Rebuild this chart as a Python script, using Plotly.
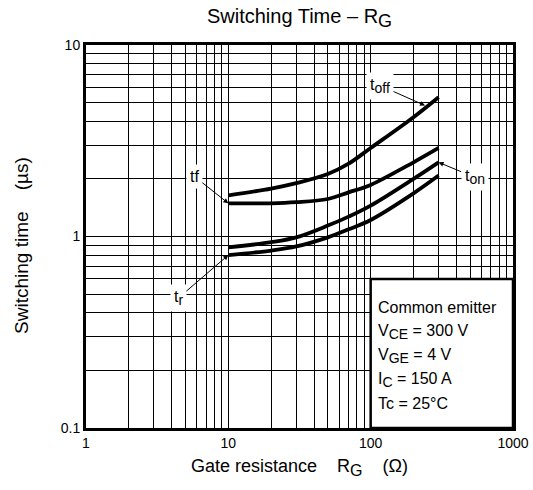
import math
import plotly.graph_objects as go

# ---- data ----
rg = [10, 20, 30, 50, 70, 100, 200, 300]
t_off = [1.64, 1.78, 1.90, 2.12, 2.40, 2.90, 4.20, 5.34]
t_f = [1.49, 1.49, 1.51, 1.57, 1.70, 1.86, 2.44, 2.90]
t_on = [0.877, 0.934, 0.99, 1.14, 1.27, 1.45, 2.00, 2.44]
t_r = [0.80, 0.845, 0.887, 0.99, 1.09, 1.22, 1.68, 2.08]

x_ticks = [1, 2, 3, 4, 5, 6, 7, 8, 9, 10, 20, 30, 40, 50, 60, 70, 80, 90,
           100, 200, 300, 400, 500, 600, 700, 800, 900, 1000]
x_labels = ["1"] + [""] * 8 + ["10"] + [""] * 8 + ["100"] + [""] * 8 + ["1000"]
y_ticks = [0.1, 0.2, 0.3, 0.4, 0.5, 0.6, 0.7, 0.8, 0.9, 1, 2, 3, 4, 5, 6, 7, 8, 9, 10]
y_labels = ["0.1"] + [""] * 8 + ["1"] + [""] * 8 + ["10"]


def sub(t, size):
    return f"<sub><span style='font-size:{size}px'>{t}</span></sub>"


cond_lines = ["Common emitter", f"V{sub('CE', 14)} = 300 V", f"V{sub('GE', 14)} = 4 V",
              f"I{sub('C', 14)} = 150 A", "Tc = 25°C"]
cond_y = [0.314, 0.251, 0.188, 0.125, 0.064]

FONT = "Arial, Liberation Sans, sans-serif"
NB = "\u00a0"

fig = go.Figure()
for ys in [t_off, t_f, t_on, t_r]:
    fig.add_trace(go.Scatter(x=rg, y=ys, mode="lines",
                             line=dict(color="black", width=3.8, shape="spline", smoothing=1.0),
                             showlegend=False, hoverinfo="skip"))

axis_common = dict(type="log", showgrid=True, gridcolor="black", gridwidth=1.4,
                   showline=True, linecolor="black", linewidth=3, mirror=True,
                   ticks="", zeroline=False, automargin=False,
                   tickfont=dict(family=FONT, size=14, color="black"))

fig.update_xaxes(range=[0, 3], tickvals=x_ticks, ticktext=x_labels,
                 title=dict(text=f"Gate resistance{NB*4}R{sub('G', 16)}{NB*4}(Ω)",
                            font=dict(family=FONT, size=18, color="black"), standoff=10),
                 **axis_common)
fig.update_yaxes(range=[-1, 1], tickvals=y_ticks, ticktext=y_labels, **axis_common)

# y axis title placed as rotated text left of the plot
fig.add_annotation(xref="paper", yref="paper", x=-0.15, y=0.478,
                   text=f"Switching time{NB*4}(µs)", textangle=-90, showarrow=False,
                   xanchor="center", yanchor="middle",
                   font=dict(family=FONT, size=19, color="black"))

# conditions box (lower right: RG 100..1000, time 0.1..0.6)
fig.add_shape(type="rect", xref="x domain", yref="y domain",
              x0=2 / 3, x1=1, y0=0, y1=(math.log10(0.6) + 1) / 2,
              fillcolor="white", line=dict(color="black", width=2.5), layer="above")

for t, yy in zip(cond_lines, cond_y):
    fig.add_annotation(xref="x domain", yref="y domain", x=0.679, y=yy,
                       text=t, showarrow=False, xanchor="left", yanchor="middle",
                       font=dict(family=FONT, size=16, color="black"))

lab_font = dict(family=FONT, size=16, color="#000000")
arrow = dict(showarrow=True, arrowhead=2, arrowsize=1, arrowwidth=1,
             arrowcolor="black", bgcolor="white", font=lab_font, borderpad=3,
             axref="pixel", ayref="pixel")

fig.add_annotation(x=math.log10(241), y=math.log10(4.83), text=f"t{sub('off', 14)}",
                   ax=-45, ay=-20, **arrow)
fig.add_annotation(x=math.log10(rg[-1]), y=math.log10(t_on[-1]), text=f"t{sub('on', 14)}",
                   ax=36, ay=15, **arrow)
fig.add_annotation(x=math.log10(rg[0]), y=math.log10(t_f[0]), text="tf",
                   ax=-34, ay=-27, **arrow)
fig.add_annotation(x=math.log10(rg[0]), y=math.log10(t_r[0]), text=f"t{sub('r', 14)}",
                   ax=-50, ay=43, **arrow)

fig.update_layout(
    template="none",
    width=533, height=490,
    margin=dict(l=86, r=20, t=45, b=62, autoexpand=False),
    paper_bgcolor="white", plot_bgcolor="white",
    font=dict(family=FONT, color="black"),
    title=dict(text=f"Switching Time – R{sub('G', 18)}", x=299.5 / 533,
               xanchor="center", y=1 - 16 / 490, yanchor="middle",
               font=dict(family=FONT, size=20, color="black")),
)

fig.write_html("out.html", config={"displayModeBar": False},
               post_script="document.body.style.margin='0';")
